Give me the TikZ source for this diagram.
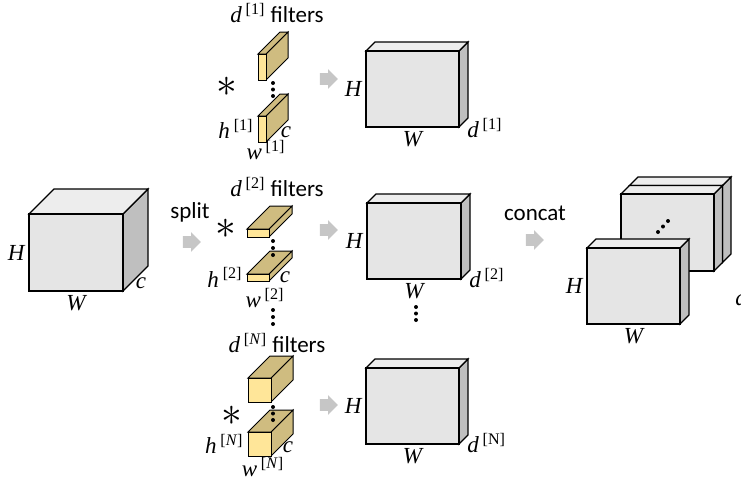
\documentclass[tikz,border=0pt]{standalone}
\usepackage{fontspec}
\setmainfont{Carlito}
\newfontfamily\tnr{Liberation Serif}
\usetikzlibrary{calc}
\usetikzlibrary{shapes.arrows}

\definecolor{filtfront}{RGB}{255,230,153}
\definecolor{filtshade}{RGB}{207,188,128}

\newcommand{\mv}[1]{{\tnr\itshape #1}}
\newcommand{\lay}[2]{\mv{#1}\,{\tnr\textsuperscript{[#2]}}}

\tikzset{
  data front/.style={draw, line width=0.6pt, fill=gray!20},
  data top/.style={draw, line width=0.6pt, fill=gray!14},
  data side/.style={draw, line width=0.6pt, fill=gray!50},
  filt front/.style={draw, line width=0.5pt, fill=filtfront},
  filt top/.style={draw, line width=0.5pt, fill=filtshade},
  filt side/.style={draw, line width=0.5pt, fill=filtshade},
  garrow/.style={single arrow, fill=gray!45, draw=none, inner sep=2.75pt,
    minimum height=9pt, minimum width=9.5pt, single arrow head extend=2pt},
  lbl/.style={inner sep=2pt},
}

\newcommand{\drawslab}[7][data]{%
  \begin{scope}[shift={(#3,#4)}]
    \draw[#1 side] (#5,0) -- ++(#7,-#7) -- ++(0,#6) -- ++(-#7,#7) -- cycle;
    \draw[#1 top] (0,0) -- ++(#7,-#7) -- ++(#5,0) -- ++(-#7,#7) -- cycle;
    \draw[#1 front] (0,0) rectangle (#5,#6);
    \coordinate (#2-nw) at (0,0);
    \coordinate (#2-w) at (0,#6/2);
    \coordinate (#2-s) at (#5/2,#6);
    \coordinate (#2-se) at (#5,#6);
  \end{scope}}

\begin{document}
\begin{tikzpicture}[x=0.5pt,y=-0.5pt,font=\fontsize{11.5}{13}\selectfont]
  \useasboundingbox (0,0) rectangle (741,484);

  % input
  \drawslab{in}{29}{214}{94}{77}{25}
  \node[lbl,left] (inH) at (in-w) {\mv{H}};
  \node[lbl,below] (inW) at (in-s) {\mv{W}};
  \node (inc) at ($(in-se)+(18,-8)$) {\mv{c}};
  \node (split) at (190,212) {split};
  \node[garrow] (splitarr) at (189,242) {};

  % group 1
  \node (g1) at (277,13) {\lay{d}{1} filters};
  \drawslab[filt]{fa1}{258}{54}{8}{26}{22}
  \drawslab[filt]{fb1}{258}{116}{8}{26}{22}
  \foreach \y in {83,89.5,96} \fill (273,\y) circle (1pt);
  \node (st1) at (227,87) {\huge$\ast$};
  \node[lbl,left] (h1) at (fb1-w) {\lay{h}{1}};
  \node (w1) at (266,150) {\lay{w}{1}};
  \node (c1) at (286,132) {\mv{c}};
  \node[garrow] (arr1) at (326,79) {};
  \drawslab{o1}{366}{51}{93}{76}{9}
  \node[lbl,left] (o1H) at (o1-w) {\mv{H}};
  \node[lbl,below] (o1W) at (o1-s) {\mv{W}};
  \node[lbl,anchor=west] (o1d) at ($(o1-se)+(4,1)$) {\lay{d}{1}};

  % group 2
  \node (g2) at (277,187) {\lay{d}{2} filters};
  \drawslab[filt]{fa2}{247}{229}{22}{8}{23}
  \drawslab[filt]{fb2}{247}{274}{22}{7}{23}
  \foreach \y in {241,248,255} \fill (273,\y) circle (1pt);
  \node (st2) at (226,229) {\huge$\ast$};
  \node[lbl,left] (h2) at (fb2-w) {\lay{h}{2}};
  \node (w2) at (265,298) {\lay{w}{2}};
  \node (c2) at (285,277) {\mv{c}};
  \node[garrow] (arr2) at (326,230) {};
  \drawslab{o2}{367}{203}{94}{76}{9}
  \node[lbl,left] (o2H) at (o2-w) {\mv{H}};
  \node[lbl,below] (o2W) at (o2-s) {\mv{W}};
  \node[lbl,anchor=west] (o2d) at ($(o2-se)+(4,-1)$) {\lay{d}{2}};
  \foreach \y in {310,317,324} \fill (273,\y) circle (1pt);
  \foreach \y in {307,313.5,320} \fill (416,\y) circle (1pt);

  % group N
  \node (gN) at (277,343) {\lay{d}{\textit{N}} filters};
  \drawslab[filt]{faN}{248}{378}{23}{24}{22}
  \drawslab[filt]{fbN}{248}{432}{23}{24}{22}
  \foreach \y in {407,413.5,420} \fill (273,\y) circle (1pt);
  \node (stN) at (232,416) {\huge$\ast$};
  \node[lbl,left] (hN) at (fbN-w) {\lay{h}{\textit{N}}};
  \node (wN) at (263,467) {\lay{w}{\textit{N}}};
  \node (cN) at (288,447) {\mv{c}};
  \node[garrow] (arrN) at (326,405) {};
  \drawslab{oN}{366}{368}{93}{76}{9}
  \node[lbl,left] (oNH) at (oN-w) {\mv{H}};
  \node[lbl,below] (oNW) at (oN-s) {\mv{W}};
  \node[lbl,anchor=west] (oNd) at ($(oN-se)+(4,-1)$) {\lay{d}{N}};

  % concat
  \node (concat) at (535,213) {concat};
  \node[garrow] (concatarr) at (532,240) {};
  \drawslab{cb2}{629.5}{185.5}{93}{77}{8.5}
  \drawslab{cb1}{621}{194}{93}{77}{8.5}
  \foreach \p in {(658,232),(663,226.5),(668,221)} \fill \p circle (1pt);
  \drawslab{cf}{587}{248}{93}{76}{9}
  \node[lbl,left] (cfH) at (cf-w) {\mv{H}};
  \node[lbl,below] (cfW) at (cf-s) {\mv{W}};
  \node[lbl,anchor=base west] (cfd) at (731,305) {\mv{d}};
\end{tikzpicture}
\end{document}
